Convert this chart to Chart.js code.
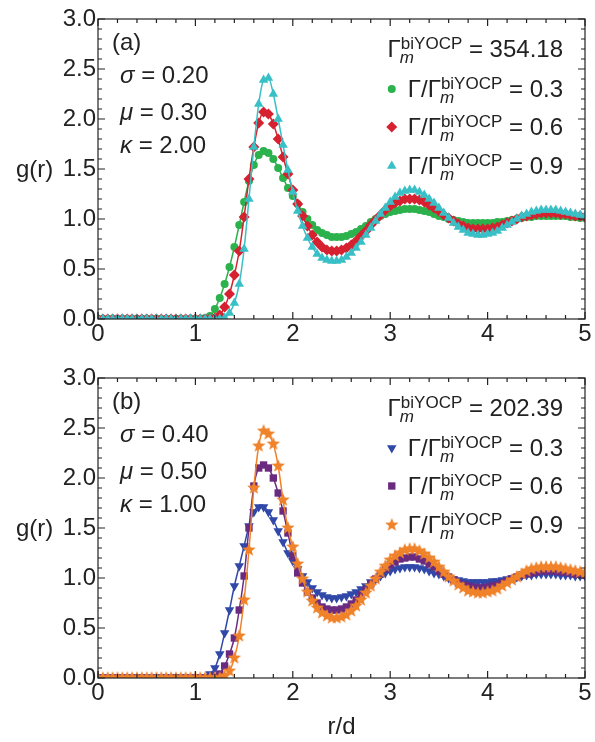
<!DOCTYPE html>
<html lang="en">
<head>
    <meta charset="UTF-8"/>
    <script src="https://cdn.jsdelivr.net/npm/chart.js@4.4.1/dist/chart.umd.min.js"></script>
    <title>g(r)</title>
    <style>
        body { margin: 0; background: #fff; }
        .panel { position: absolute; left: 0; width: 595px; }
    </style>
</head>
<body>
<div class="panel" style="top:0"><canvas id="chartA" width="595" height="345"></canvas></div>
<div class="panel" style="top:345px"><canvas id="chartB" width="595" height="397"></canvas></div>
<script>
    // r/d grid (step 0.05)
    const rGrid = [
        0.00, 0.05, 0.10, 0.15, 0.20, 0.25, 0.30, 0.35, 0.40, 0.45,
        0.50, 0.55, 0.60, 0.65, 0.70, 0.75, 0.80, 0.85, 0.90, 0.95,
        1.00, 1.05, 1.10, 1.15, 1.20, 1.25, 1.30, 1.35, 1.40, 1.45,
        1.50, 1.55, 1.60, 1.65, 1.70, 1.75, 1.80, 1.85, 1.90, 1.95,
        2.00, 2.05, 2.10, 2.15, 2.20, 2.25, 2.30, 2.35, 2.40, 2.45,
        2.50, 2.55, 2.60, 2.65, 2.70, 2.75, 2.80, 2.85, 2.90, 2.95,
        3.00, 3.05, 3.10, 3.15, 3.20, 3.25, 3.30, 3.35, 3.40, 3.45,
        3.50, 3.55, 3.60, 3.65, 3.70, 3.75, 3.80, 3.85, 3.90, 3.95,
        4.00, 4.05, 4.10, 4.15, 4.20, 4.25, 4.30, 4.35, 4.40, 4.45,
        4.50, 4.55, 4.60, 4.65, 4.70, 4.75, 4.80, 4.85, 4.90, 4.95,
        5.00
    ];

    // panel (a): sigma 0.20, mu 0.30, kappa 2.00
    const gA03 = [
        0, 0, 0, 0, 0, 0, 0, 0, 0, 0,
        0, 0, 0, 0, 0, 0, 0, 0, 0, 0,
        0, 0, 0.01, 0.03, 0.10, 0.21, 0.35, 0.52, 0.72, 0.94,
        1.17, 1.38, 1.54, 1.64, 1.68, 1.66, 1.60, 1.51, 1.41, 1.31,
        1.23, 1.15, 1.07, 1.00, 0.94, 0.89, 0.86, 0.84, 0.82, 0.82,
        0.82, 0.83, 0.85, 0.87, 0.90, 0.93, 0.97, 1.00, 1.03, 1.05,
        1.07, 1.08, 1.09, 1.10, 1.10, 1.10, 1.09, 1.08, 1.07, 1.05,
        1.03, 1.02, 1.00, 0.99, 0.98, 0.97, 0.96, 0.96, 0.96, 0.96,
        0.96, 0.96, 0.97, 0.97, 0.98, 0.99, 1.00, 1.01, 1.02, 1.02,
        1.03, 1.03, 1.03, 1.03, 1.03, 1.03, 1.03, 1.02, 1.02, 1.01,
        1.01
    ];
    const gA06 = [
        0, 0, 0, 0, 0, 0, 0, 0, 0, 0,
        0, 0, 0, 0, 0, 0, 0, 0, 0, 0,
        0, 0, 0, 0, 0.01, 0.04, 0.12, 0.25, 0.44, 0.68,
        1.02, 1.40, 1.72, 1.96, 2.07, 2.05, 1.95, 1.80, 1.62, 1.45,
        1.29, 1.15, 1.03, 0.93, 0.84, 0.77, 0.72, 0.69, 0.68, 0.68,
        0.69, 0.71, 0.74, 0.78, 0.83, 0.88, 0.94, 0.99, 1.04, 1.09,
        1.13, 1.16, 1.18, 1.20, 1.20, 1.20, 1.19, 1.17, 1.14, 1.11,
        1.08, 1.04, 1.01, 0.98, 0.95, 0.93, 0.91, 0.90, 0.90, 0.90,
        0.90, 0.91, 0.92, 0.94, 0.96, 0.98, 1.00, 1.02, 1.03, 1.04,
        1.05, 1.06, 1.06, 1.06, 1.06, 1.05, 1.05, 1.04, 1.03, 1.03,
        1.02
    ];
    const gA09 = [
        0, 0, 0, 0, 0, 0, 0, 0, 0, 0,
        0, 0, 0, 0, 0, 0, 0, 0, 0, 0,
        0, 0, 0, 0, 0, 0, 0.01, 0.06, 0.16, 0.35,
        0.70, 1.20, 1.72, 2.15, 2.39, 2.41, 2.25, 2.00, 1.74, 1.49,
        1.27, 1.08, 0.93, 0.81, 0.72, 0.65, 0.61, 0.59, 0.58, 0.58,
        0.59, 0.62, 0.66, 0.71, 0.77, 0.84, 0.91, 0.98, 1.05, 1.11,
        1.17, 1.22, 1.26, 1.28, 1.29, 1.29, 1.27, 1.24, 1.20, 1.16,
        1.11, 1.06, 1.01, 0.96, 0.92, 0.89, 0.86, 0.85, 0.84, 0.84,
        0.85, 0.86, 0.88, 0.91, 0.94, 0.97, 1.00, 1.03, 1.05, 1.07,
        1.08, 1.09, 1.09, 1.09, 1.09, 1.08, 1.07, 1.06, 1.05, 1.04,
        1.03
    ];

    // panel (b): sigma 0.40, mu 0.50, kappa 1.00
    const gB03 = [
        0, 0, 0, 0, 0, 0, 0, 0, 0, 0,
        0, 0, 0, 0, 0, 0, 0, 0, 0, 0,
        0, 0, 0.01, 0.04, 0.10, 0.24, 0.45, 0.68, 0.92, 1.12,
        1.32, 1.52, 1.66, 1.71, 1.71, 1.66, 1.58, 1.47, 1.36, 1.25,
        1.17, 1.09, 1.02, 0.96, 0.90, 0.86, 0.83, 0.81, 0.80, 0.80,
        0.81, 0.82, 0.84, 0.86, 0.89, 0.92, 0.96, 0.99, 1.02, 1.05,
        1.07, 1.09, 1.10, 1.11, 1.11, 1.11, 1.10, 1.09, 1.07, 1.05,
        1.04, 1.02, 1.00, 0.99, 0.98, 0.97, 0.96, 0.96, 0.96, 0.96,
        0.96, 0.97, 0.97, 0.98, 0.99, 1.00, 1.01, 1.02, 1.03, 1.03,
        1.04, 1.04, 1.04, 1.04, 1.04, 1.03, 1.03, 1.03, 1.02, 1.02,
        1.02
    ];
    const gB06 = [
        0, 0, 0, 0, 0, 0, 0, 0, 0, 0,
        0, 0, 0, 0, 0, 0, 0, 0, 0, 0,
        0, 0, 0, 0, 0.01, 0.04, 0.12, 0.24, 0.40, 0.68,
        1.02, 1.50, 1.92, 2.10, 2.13, 2.10, 2.00, 1.85, 1.67, 1.45,
        1.22, 1.05, 0.95, 0.86, 0.80, 0.75, 0.71, 0.69, 0.68, 0.68,
        0.69, 0.71, 0.74, 0.78, 0.83, 0.88, 0.94, 0.99, 1.04, 1.09,
        1.13, 1.16, 1.19, 1.20, 1.21, 1.21, 1.19, 1.17, 1.14, 1.11,
        1.07, 1.04, 1.01, 0.98, 0.95, 0.93, 0.92, 0.91, 0.90, 0.90,
        0.91, 0.92, 0.93, 0.95, 0.97, 0.99, 1.01, 1.03, 1.04, 1.05,
        1.06, 1.07, 1.07, 1.07, 1.07, 1.06, 1.06, 1.05, 1.04, 1.04,
        1.03
    ];
    const gB09 = [
        0, 0, 0, 0, 0, 0, 0, 0, 0, 0,
        0, 0, 0, 0, 0, 0, 0, 0, 0, 0,
        0, 0, 0, 0, 0, 0, 0.02, 0.07, 0.20, 0.42,
        0.78, 1.28, 1.90, 2.32, 2.47, 2.44, 2.34, 2.12, 1.78, 1.50,
        1.31, 1.14, 0.99, 0.86, 0.77, 0.70, 0.65, 0.62, 0.60, 0.60,
        0.61, 0.63, 0.67, 0.72, 0.78, 0.85, 0.92, 0.99, 1.06, 1.12,
        1.18, 1.22, 1.25, 1.28, 1.29, 1.29, 1.27, 1.24, 1.20, 1.16,
        1.11, 1.06, 1.01, 0.97, 0.93, 0.90, 0.87, 0.86, 0.85, 0.85,
        0.86, 0.87, 0.89, 0.92, 0.95, 0.98, 1.01, 1.04, 1.07, 1.09,
        1.10, 1.11, 1.11, 1.11, 1.11, 1.10, 1.09, 1.08, 1.07, 1.06,
        1.05
    ];

    const xTicks = [0, 1, 2, 3, 4, 5];
    const yTicks = ['0.0', '0.5', '1.0', '1.5', '2.0', '2.5', '3.0'];
    const ratioLabels = ['0.3', '0.6', '0.9'];

    const FONT = '"Liberation Sans", Arial, sans-serif';
    const FS = 24;
    Chart.defaults.font.family = FONT;
    Chart.defaults.color = '#222';

    function makeStar(color, R, r) {
        const c = document.createElement('canvas');
        const s = Math.ceil(2 * R) + 2;
        c.width = s;
        c.height = s;
        const g = c.getContext('2d');
        g.fillStyle = color;
        g.beginPath();
        for (let i = 0; i < 10; i++) {
            const rad = i % 2 ? r : R;
            const ang = -Math.PI / 2 + i * Math.PI / 5;
            g.lineTo(s / 2 + rad * Math.cos(ang), s / 2 + rad * Math.sin(ang));
        }
        g.closePath();
        g.fill();
        return c;
    }

    const starImg = makeStar('#f0822a', 7, 3);

    const seriesA = [
        {values: gA03, color: '#2bb24c', style: 'circle', radius: 4, rot: 0},
        {values: gA06, color: '#d62130', style: 'rectRot', radius: 5.5, rot: 0},
        {values: gA09, color: '#39c0c6', style: 'triangle', radius: 5.5, rot: 0}
    ];
    const seriesB = [
        {values: gB03, color: '#3048a8', style: 'triangle', radius: 5.5, rot: 180},
        {values: gB06, color: '#6a2a80', style: 'rect', radius: 5.2, rot: 0},
        {values: gB09, color: '#f0822a', style: starImg, radius: 7, rot: 0}
    ];

    function drawGamma(ctx, right, base, prefix, value) {
        const main = FS + 'px ' + FONT, small = '17px ' + FONT, smallIt = 'italic 17px ' + FONT;
        ctx.font = main;
        const tail = ' = ' + value;
        const wTail = ctx.measureText(tail).width;
        const wPre = ctx.measureText(prefix).width;
        ctx.font = small;
        const wSup = ctx.measureText('biYOCP').width;
        let x = right - wTail - wSup - wPre;
        ctx.textAlign = 'left';
        ctx.textBaseline = 'alphabetic';
        ctx.font = main;
        ctx.fillText(prefix, x, base);
        const start = x;
        x += wPre;
        ctx.font = small;
        ctx.fillText('biYOCP', x, base - 8);
        ctx.font = smallIt;
        ctx.fillText('m', x - 1, base + 6);
        x += wSup;
        ctx.font = main;
        ctx.fillText(tail, x, base);
        return start;
    }

    const framePlugin = {
        id: 'frame',
        afterDraw(chart, args, opts) {
            const {ctx, chartArea: a, scales: {x, y}} = chart;
            ctx.save();
            ctx.strokeStyle = '#222';
            ctx.lineWidth = 1.2;
            ctx.strokeRect(a.left, a.top, a.right - a.left, a.bottom - a.top);
            ctx.beginPath();
            for (let i = 0; i <= 25; i++) {
                const px = x.getPixelForValue(i * 0.2);
                const len = i % 5 === 0 ? 7 : 4;
                ctx.moveTo(px, a.bottom);
                ctx.lineTo(px, a.bottom - len);
                ctx.moveTo(px, a.top);
                ctx.lineTo(px, a.top + len);
            }
            for (let i = 0; i <= 30; i++) {
                const py = y.getPixelForValue(i * 0.1);
                const len = i % 5 === 0 ? 7 : 4;
                ctx.moveTo(a.left, py);
                ctx.lineTo(a.left + len, py);
                ctx.moveTo(a.right, py);
                ctx.lineTo(a.right - len, py);
            }
            ctx.stroke();

            // texts
            ctx.fillStyle = '#222';
            ctx.textBaseline = 'alphabetic';
            ctx.textAlign = 'left';
            ctx.font = FS + 'px ' + FONT;
            ctx.fillText('g(r)', 16, y.getPixelForValue(1.5) + 8);
            ctx.fillText(opts.tag, a.left + 14, a.top + 31);
            const rows = [64, 101, 134];
            opts.params.forEach((p, i) => {
                ctx.font = 'italic ' + FS + 'px ' + FONT;
                ctx.fillText(p[0], a.left + 22, a.top + rows[i]);
                const w = ctx.measureText(p[0]).width;
                ctx.font = FS + 'px ' + FONT;
                ctx.fillText(' = ' + p[1], a.left + 22 + w, a.top + rows[i]);
            });

            // legend
            const right = a.right - 22;
            const bases = [38, 78, 116, 155];
            drawGamma(ctx, right, a.top + bases[0], 'Γ', opts.gammaM);
            opts.series.forEach((s, i) => {
                ctx.fillStyle = '#222';
                const start = drawGamma(ctx, right, a.top + bases[i + 1], 'Γ/Γ', ratioLabels[i]);
                ctx.fillStyle = s.color;
                Chart.helpers.drawPoint(ctx, {
                    pointStyle: s.style, radius: s.radius, rotation: s.rot, borderWidth: 0
                }, start - 16, a.top + bases[i + 1] - 8);
            });
            ctx.restore();
        }
    };

    function buildChart(id, series, frameOpts, padTop, xHeight, showTitle) {
        const datasets = series.map((s, i) => ({
            data: rGrid.map((r, k) => ({x: r, y: s.values[k]})),
            borderColor: s.color,
            backgroundColor: s.color,
            borderWidth: 1.5,
            pointStyle: s.style,
            pointRadius: s.radius,
            pointRotation: s.rot,
            pointBorderWidth: 0,
            cubicInterpolationMode: 'monotone',
            order: series.length - i
        }));
        return new Chart(document.getElementById(id), {
            type: 'line',
            data: {datasets},
            plugins: [framePlugin],
            options: {
                responsive: false,
                animation: false,
                layout: {padding: {top: padTop, right: 10, left: 0, bottom: 0}},
                plugins: {
                    legend: {display: false},
                    tooltip: {enabled: false},
                    frame: frameOpts
                },
                scales: {
                    x: {
                        type: 'linear',
                        min: 0,
                        max: 5,
                        afterBuildTicks: (scale) => {
                            scale.ticks = xTicks.map(v => ({value: v}));
                        },
                        afterFit: (scale) => {
                            scale.height = xHeight;
                        },
                        ticks: {font: {size: FS}, padding: 1, maxRotation: 0, callback: (v) => String(v)},
                        grid: {display: false, drawTicks: false},
                        border: {display: false},
                        title: {
                            display: showTitle, text: 'r/d', font: {size: FS},
                            padding: {top: 0, bottom: 0}
                        }
                    },
                    y: {
                        type: 'linear',
                        min: 0,
                        max: 3,
                        afterBuildTicks: (scale) => {
                            scale.ticks = yTicks.map(v => ({value: parseFloat(v)}));
                        },
                        afterFit: (scale) => {
                            scale.width = 98;
                        },
                        ticks: {font: {size: FS}, padding: 2, callback: (v) => v.toFixed(1)},
                        grid: {display: false, drawTicks: false},
                        border: {display: false}
                    }
                }
            }
        });
    }

    buildChart('chartA', seriesA, {
        tag: '(a)',
        params: [['σ', '0.20'], ['μ', '0.30'], ['κ', '2.00']],
        gammaM: '354.18',
        series: seriesA
    }, 19, 26, false);

    buildChart('chartB', seriesB, {
        tag: '(b)',
        params: [['σ', '0.40'], ['μ', '0.50'], ['κ', '1.00']],
        gammaM: '202.39',
        series: seriesB
    }, 33, 64, true);
</script>
</body>
</html>
